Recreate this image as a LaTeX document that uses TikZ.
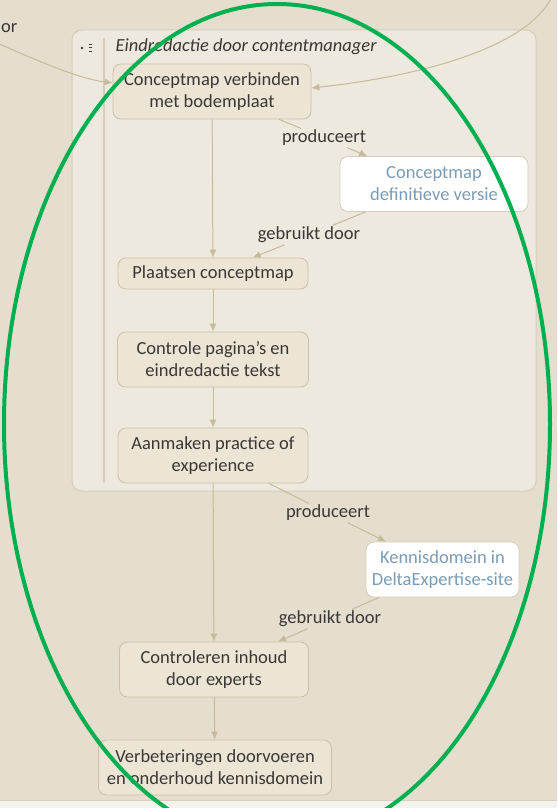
\documentclass[tikz,border=0pt]{standalone}
\usepackage{fontspec}
\setmainfont{Carlito}
\usepackage{tikz}
\usetikzlibrary{arrows.meta}

\definecolor{achtergrond}{RGB}{229,222,207}
\definecolor{groepvlak}{RGB}{238,233,222}
\definecolor{groeprand}{RGB}{214,205,186}
\definecolor{stapvlak}{RGB}{236,229,214}
\definecolor{staprand}{RGB}{204,192,165}
\definecolor{lijn}{RGB}{198,186,152}
\definecolor{tekst}{RGB}{58,56,52}
\definecolor{producttekst}{RGB}{122,156,182}
\definecolor{groen}{RGB}{0,176,80}
\definecolor{strook}{RGB}{245,243,239}

\begin{document}
\begin{tikzpicture}[x=1pt, y=-1pt,
  font=\fontsize{18.5}{22}\selectfont,
  stap/.style={draw=staprand, fill=stapvlak, rounded corners=8pt, align=center,
    text=tekst, inner sep=0pt, minimum height=55pt, line width=0.8pt},
  product/.style={stap, fill=white, draw=groeprand, text=producttekst},
  relatie/.style={text=tekst, inner sep=1.5pt},
  verbinding/.style={draw=lijn, line width=1pt},
  pijl/.style={verbinding, -{Latex[length=8pt,width=7pt]}}]
\useasboundingbox (0,0) rectangle (557,808);
\clip (0,0) rectangle (557,808);
\fill[achtergrond] (0,0) rectangle (557,808);
\fill[strook] (0,801) rectangle (557,808);
\draw[groeprand, line width=0.8pt] (0,800.5) -- (557,800.5);

% groep
\draw[draw=groeprand, fill=groepvlak, rounded corners=10pt, line width=1pt] (72,30) rectangle (536,491);
\draw[groeprand, line width=1.5pt] (104,38) -- (104,483);
\fill[tekst] (82,48) circle (1.4);
\draw[tekst, line width=1pt] (89,44.5) -- (92,44.5) (89,48) -- (92,48) (89,51.5) -- (92,51.5);
\node[anchor=west, text=tekst, font=\fontsize{18.5}{22}\selectfont\itshape] (titel) at (112,47) {Eindredactie door contentmanager};

% stappen
\node[stap, minimum width=198pt] (verbinden) at (212,91.5) {Conceptmap verbinden\\met bodemplaat};
\node[product, minimum width=188pt] (definitief) at (434,184) {Conceptmap\\definitieve versie};
\node[stap, minimum width=190pt, minimum height=31pt] (plaatsen) at (213,273.5) {Plaatsen conceptmap};
\node[stap, minimum width=191pt] (controle) at (213,359.5) {Controle pagina's en\\eindredactie tekst};
\node[stap, minimum width=190pt] (aanmaken) at (213,455.5) {Aanmaken practice of\\experience};
\node[product, minimum width=153pt] (kennisdomein) at (442.5,569.5) {Kennisdomein in\\DeltaExpertise-site};
\node[stap, minimum width=189pt] (controleren) at (214,669.5) {Controleren inhoud\\door experts};
\node[stap, minimum width=233pt] (verbeteren) at (215,767.5) {Verbeteringen doorvoeren\\en onderhoud kennisdomein};

% relaties
\node[relatie] (produceert1) at (324,138) {produceert};
\node[relatie] (gebruikt1) at (309,235) {gebruikt door};
\node[relatie] (produceert2) at (328,513) {produceert};
\node[relatie] (gebruikt2) at (330,619) {gebruikt door};
\node[relatie, anchor=east] (gebruikt0) at (19,28) {or};

\draw[verbinding] (verbinden) -- (produceert1);
\draw[pijl] (produceert1) -- (definitief);
\draw[verbinding] (definitief) -- (gebruikt1);
\draw[pijl] (gebruikt1) -- (plaatsen);
\draw[verbinding] (aanmaken) -- (produceert2);
\draw[pijl] (produceert2) -- (kennisdomein);
\draw[verbinding] (kennisdomein) -- (gebruikt2);
\draw[pijl] (gebruikt2) -- (controleren);

\draw[pijl] (verbinden) -- (plaatsen);
\draw[pijl] (plaatsen) -- (controle);
\draw[pijl] (controle) -- (aanmaken);
\draw[pijl] (aanmaken) -- (controleren);
\draw[pijl] (controleren) -- (verbeteren);

% binnenkomende verbindingen
\coordinate (vanlinks) at (-5,42);
\coordinate (vanrechts) at (553,-5);
\draw[pijl] (vanlinks) .. controls (40,62) and (80,79) .. (verbinden.175);
\draw[pijl] (vanrechts) .. controls (530,45) and (430,75) .. (verbinden.2);

% markering
\draw[groen, line width=4pt] (277,424) ellipse [x radius=273pt, y radius=420pt];
\end{tikzpicture}
\end{document}
